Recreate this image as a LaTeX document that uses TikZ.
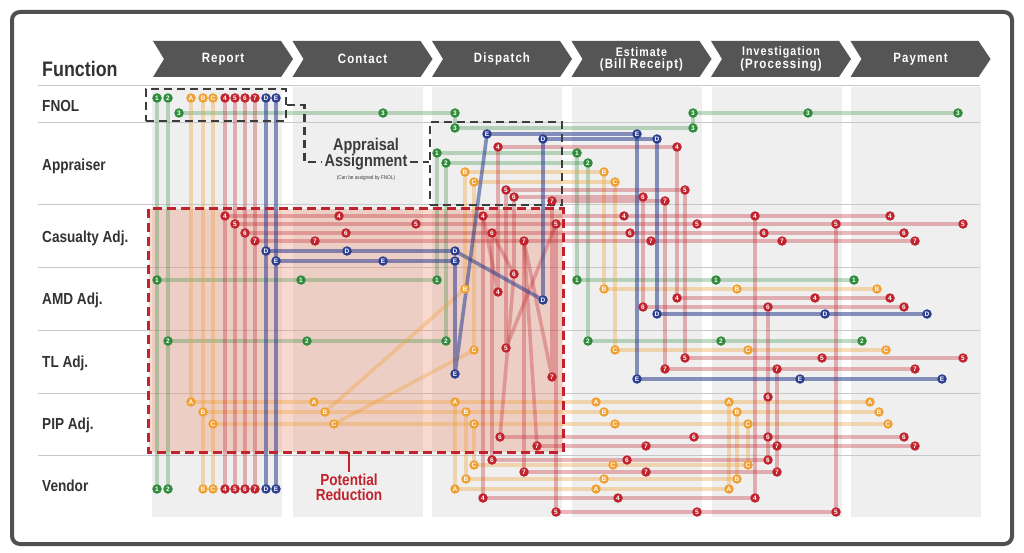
\documentclass[tikz,border=0pt]{standalone}
\usepackage{fontspec}
\setmainfont{Liberation Sans}
\newfontfamily\cond[FakeStretch=0.85]{Liberation Sans}
\newfontfamily\hdfont[FakeStretch=0.85,LetterSpace=8]{Liberation Sans}
\definecolor{cg}{RGB}{46,139,58}
\definecolor{co}{RGB}{240,160,50}
\definecolor{cr}{RGB}{192,35,45}
\definecolor{cb}{RGB}{43,61,143}
\definecolor{hdr}{RGB}{85,85,85}
\definecolor{colbg}{RGB}{239,239,239}
\definecolor{txt}{RGB}{51,51,51}
\definecolor{frame}{RGB}{80,80,80}
\definecolor{rowln}{RGB}{200,200,200}
\definecolor{boxgray}{RGB}{60,60,60}
\definecolor{redfillc}{RGB}{235,130,100}
\begin{document}
\def\marklist{g1a/157/98/cg/1,g2a/168/98/cg/2,g3a/179/113/cg/3,g3b/383/113/cg/3,g3c/455/113/cg/3,g3d/455/128/cg/3,g3e/693/128/cg/3,g3f/693/113/cg/3,g3g/808/113/cg/3,g3h/958/113/cg/3,
g1b/437/153/cg/1,g1c/577/153/cg/1,g1d/157/280/cg/1,g1e/301/280/cg/1,g1f/437/280/cg/1,g1g/577/280/cg/1,g1h/716/280/cg/1,g1i/854/280/cg/1,g1z/157/489/cg/1,
g2b/446/163/cg/2,g2c/588/163/cg/2,g2d/168/341/cg/2,g2e/307/341/cg/2,g2f/446/341/cg/2,g2g/588/341/cg/2,g2h/721/341/cg/2,g2i/862/341/cg/2,g2z/168/489/cg/2,
oAa/191/98/co/A,oAb/191/402/co/A,oAc/314/402/co/A,oAd/455/402/co/A,oAe/596/402/co/A,oAf/729/402/co/A,oAg/870/402/co/A,oAh/455/489/co/A,oAi/596/489/co/A,oAj/729/489/co/A,
oBa/203/98/co/B,oBz/203/489/co/B,oBb/203/412/co/B,oBc/325/412/co/B,oBd/466/412/co/B,oBe/604/412/co/B,oBf/737/412/co/B,oBg/879/412/co/B,oBh/466/479/co/B,oBi/604/479/co/B,oBj/737/479/co/B,oBk/465/172/co/B,oBl/604/172/co/B,oBm/465/289/co/B,oBn/604/289/co/B,oBo/737/289/co/B,oBp/877/289/co/B,
oCa/213/98/co/C,oCz/213/489/co/C,oCb/213/424/co/C,oCc/334/424/co/C,oCd/474/424/co/C,oCe/615/424/co/C,oCf/748/424/co/C,oCg/888/424/co/C,oCh/474/465/co/C,oCi/613/465/co/C,oCj/748/465/co/C,oCk/474/182/co/C,oCl/615/182/co/C,oCm/474/350/co/C,oCn/615/350/co/C,oCo/748/350/co/C,oCp/886/350/co/C,
r4a/225/98/cr/4,r4z/225/489/cr/4,r4b/225/216/cr/4,r4c/339/216/cr/4,r4d/483/216/cr/4,r4e/624/216/cr/4,r4f/755/216/cr/4,r4g/890/216/cr/4,r4h/483/498/cr/4,r4i/618/498/cr/4,r4j/755/498/cr/4,r4k/498/147/cr/4,r4l/677/147/cr/4,r4m/498/292/cr/4,r4n/677/298/cr/4,r4o/815/298/cr/4,r4p/890/298/cr/4,
r5a/235/98/cr/5,r5z/235/489/cr/5,r5b/235/224/cr/5,r5c/416/224/cr/5,r5d/556/224/cr/5,r5e/697/224/cr/5,r5f/836/224/cr/5,r5g/963/224/cr/5,r5h/556/512/cr/5,r5i/697/512/cr/5,r5j/836/512/cr/5,r5k/506/190/cr/5,r5l/685/190/cr/5,r5m/506/348/cr/5,r5n/685/358/cr/5,r5o/822/358/cr/5,r5p/963/358/cr/5,
r6a/245/98/cr/6,r6z/245/489/cr/6,r6b/245/233/cr/6,r6c/346/233/cr/6,r6d/492/233/cr/6,r6e/630/233/cr/6,r6f/764/233/cr/6,r6g/904/233/cr/6,r6h/492/460/cr/6,r6i/627/460/cr/6,r6j/768/460/cr/6,r6k/514/197/cr/6,r6l/643/197/cr/6,r6m/514/274/cr/6,r6n/643/307/cr/6,r6o/768/307/cr/6,r6p/904/307/cr/6,r6q/500/437/cr/6,r6r/694/437/cr/6,r6s/768/437/cr/6,r6t/904/437/cr/6,r6u/768/397/cr/6,
r7a/255/98/cr/7,r7z/255/489/cr/7,r7b/255/241/cr/7,r7c/315/241/cr/7,r7d/524/241/cr/7,r7e/651/241/cr/7,r7f/782/241/cr/7,r7g/915/241/cr/7,r7h/524/472/cr/7,r7i/646/472/cr/7,r7j/777/472/cr/7,r7k/552/201/cr/7,r7l/665/201/cr/7,r7m/552/377/cr/7,r7n/665/369/cr/7,r7o/777/369/cr/7,r7p/915/369/cr/7,r7q/537/446/cr/7,r7r/646/446/cr/7,r7s/777/446/cr/7,r7t/915/446/cr/7,
bDa/266/98/cb/D,bDz/266/489/cb/D,bDb/266/251/cb/D,bDc/347/251/cb/D,bDd/455/251/cb/D,bDe/543/300/cb/D,bDf/543/139/cb/D,bDg/657/139/cb/D,bDh/657/314/cb/D,bDi/825/314/cb/D,bDj/927/314/cb/D,
bEa/276/98/cb/E,bEz/276/489/cb/E,bEb/276/261/cb/E,bEc/383/261/cb/E,bEd/455/261/cb/E,bEe/455/374/cb/E,bEf/487/134/cb/E,bEg/637/134/cb/E,bEh/637/379/cb/E,bEi/800/379/cb/E,bEj/942/379/cb/E}
\begin{tikzpicture}[x=1pt,y=-1pt,
  ln/.style={line width=3.6pt,line join=round},
  lg/.style={ln,draw=cg,opacity=0.3},
  lo/.style={ln,draw=co,opacity=0.35},
  lr/.style={ln,draw=cr,opacity=0.32},
  lb/.style={ln,draw=cb,opacity=0.55},
  mk/.style={circle,fill=#1,text=white,inner sep=0pt,minimum size=9.5pt,font=\fontsize{6.5}{6.5}\selectfont\bfseries},
  hdrtext/.style={text=white,font=\hdfont\fontsize{13.5}{12}\selectfont\bfseries,align=center},
  rowlab/.style={anchor=base west,text=txt,font=\cond\fontsize{16}{16}\selectfont\bfseries,inner sep=0pt},
  dbox/.style={draw=boxgray,line width=2.6pt,dash pattern=on 8pt off 5pt},
  dconn/.style={draw=boxgray,line width=2.6pt,dash pattern=on 8pt off 5pt},
  rbox/.style={draw=cr,line width=2.8pt,dash pattern=on 9pt off 5pt}]
\useasboundingbox (0,0) rectangle (1024,553);
\fill[white] (0,0) rectangle (1024,553);
\draw[line width=4pt,draw=frame,rounded corners=8pt] (12,12) rectangle (1012,544);
% column backgrounds
\foreach \x in {152,293,432,572,712,851} \fill[colbg] (\x,87) rectangle ++(130,430);
\foreach \y in {86,123,205,267,330,393,455} \draw[rowln,line width=1pt] (38,\y) -- (980,\y);
% header chevrons
\foreach \x/\t [count=\i] in {153/Report,292.5/Contact,432/Dispatch,571.5/{\fontsize{12.5}{11.5}\selectfont Estimate\\(Bill Receipt)},711/{\fontsize{12.5}{11.5}\selectfont Investigation\\(Processing)},850.5/Payment}{
  \fill[hdr] (\x,41) -- ++(128,0) -- ++(12,18) -- ++(-12,18) -- ++(-128,0) -- ++(11,-18) -- cycle;
  \node[hdrtext] (hd\i) at (\x+70,59) {\t};
}
% labels
\node[anchor=base west,text=txt,font=\cond\fontsize{21}{21}\selectfont\bfseries,inner sep=0pt] (fn) at (42,77) {Function};
\node[rowlab] (lFNOL) at (42,112) {FNOL};
\node[rowlab] (lApp) at (42,171) {Appraiser};
\node[rowlab] (lCas) at (42,243) {Casualty Adj.};
\node[rowlab] (lAMD) at (42,304) {AMD Adj.};
\node[rowlab] (lTL) at (42,367) {TL Adj.};
\node[rowlab] (lPIP) at (42,429) {PIP Adj.};
\node[rowlab] (lVen) at (42,491) {Vendor};
% potential reduction fill
\node[fill=redfillc,fill opacity=0.3,minimum width=414pt,minimum height=243pt,inner sep=0pt] (redbox) at (356,330.5) {};
% coordinates
\foreach \n/\x/\y/\c/\t in \marklist { \coordinate (\n) at (\x,\y); }
% green
\draw[lg] (g1a)--(g1z);
\draw[lg] (g2a)--(g2z);
\draw[lg] (g3a)--(g3b)--(g3c)--(g3d)--(g3e)--(g3f)--(g3g)--(g3h);
\draw[lg] (g1d)--(g1e)--(g1f)--(g1b)--(g1c)--(g1g)--(g1h)--(g1i);
\draw[lg] (g2d)--(g2e)--(g2f)--(g2b)--(g2c)--(g2g)--(g2h)--(g2i);
% orange
\draw[lo] (oAa)--(oAb)--(oAc)--(oAd)--(oAe)--(oAf)--(oAg);
\draw[lo] (oAd)--(oAh)--(oAi)--(oAj)--(oAf);
\draw[lo] (oBa)--(oBz);
\draw[lo] (oBb)--(oBc)--(oBd)--(oBe)--(oBf)--(oBg);
\draw[lo] (oBd)--(oBh)--(oBi)--(oBj)--(oBf);
\draw[lo] (oBc)--(oBm)--(oBk)--(oBl)--(oBn)--(oBo)--(oBp);
\draw[lo] (oCa)--(oCz);
\draw[lo] (oCb)--(oCc)--(oCd)--(oCe)--(oCf)--(oCg);
\draw[lo] (oCd)--(oCh)--(oCi)--(oCj)--(oCf);
\draw[lo] (oCc)--(oCm)--(oCk)--(oCl)--(oCn)--(oCo)--(oCp);
% red 4
\draw[lr] (r4a)--(r4z);
\draw[lr] (r4b)--(r4c)--(r4d)--(r4e)--(r4f)--(r4g);
\draw[lr] (r4d)--(r4h)--(r4i)--(r4j)--(r4f);
\draw[lr] (r4d)--(r4m)--(r4k)--(r4l)--(r4n)--(r4o)--(r4p);
% red 5
\draw[lr] (r5a)--(r5z);
\draw[lr] (r5b)--(r5c)--(r5d)--(r5e)--(r5f)--(r5g);
\draw[lr] (r5d)--(r5h)--(r5i)--(r5j)--(r5f);
\draw[lr] (r5d)--(r5m)--(r5k)--(r5l)--(r5n)--(r5o)--(r5p);
% red 6
\draw[lr] (r6a)--(r6z);
\draw[lr] (r6b)--(r6c)--(r6d)--(r6e)--(r6f)--(r6g);
\draw[lr] (r6d)--(r6h)--(r6i)--(r6j);
\draw[lr] (r6d)--(r6m)--(r6k)--(r6l)--(r6n)--(r6o)--(r6p);
\draw[lr] (r6o)--(r6u)--(r6s)--(r6j);
\draw[lr] (r6m)--(r6q)--(r6r)--(r6s)--(r6t);
% red 7
\draw[lr] (r7a)--(r7z);
\draw[lr] (r7b)--(r7c)--(r7d)--(r7e)--(r7f)--(r7g);
\draw[lr] (r7d)--(r7h)--(r7i)--(r7j);
\draw[lr] (r7d)--(r7m)--(r7k)--(r7l)--(r7n)--(r7o)--(r7p);
\draw[lr] (r7o)--(r7s)--(r7j);
\draw[lr] (r7d)--(r7q)--(r7r)--(r7s)--(r7t);
% blue
\draw[lb] (bDa)--(bDz);
\draw[lb] (bDb)--(bDc)--(bDd)--(bDe)--(bDf)--(bDg)--(bDh)--(bDi)--(bDj);
\draw[lb] (bEa)--(bEz);
\draw[lb] (bEb)--(bEc)--(bEd)--(bEe)--(bEf)--(bEg)--(bEh)--(bEi)--(bEj);
% boxes
\node[dbox,minimum width=140pt,minimum height=32pt,inner sep=0pt] (fnolbox) at (216,105) {};
\node[dbox,minimum width=132pt,minimum height=83pt,inner sep=0pt] (apprbox) at (496,163.5) {};
\draw[rbox] (redbox.north west) rectangle (redbox.south east);
% appraisal assignment
\node[text=boxgray,font=\cond\fontsize{17}{17}\selectfont\bfseries,inner sep=1pt] (appA) at (366,146) {Appraisal};
\node[text=boxgray,font=\cond\fontsize{17}{17}\selectfont\bfseries,inner sep=2pt] (appB) at (366,162) {Assignment};
\node[text=boxgray,font=\cond\fontsize{5.5}{6}\selectfont,inner sep=0pt] (appN) at (366,178) {(Can be assigned by FNOL)};
\draw[dconn] (fnolbox.east) -- ++(17,0) |- (appB.west);
\draw[dconn] (appB.east) -- (apprbox.west |- appB.east);
% potential reduction
\node[text=cr,font=\cond\fontsize{16}{15}\selectfont\bfseries,align=center,inner sep=1pt] (pr) at (349,487) {Potential\\Reduction};
\draw[cr,line width=2.5pt] (redbox.south -| pr.north) -- (pr.north);
% markers
\foreach \n/\x/\y/\c/\t in \marklist { \node[mk=\c] (m\n) at (\n) {\t}; }
\end{tikzpicture}
\end{document}
